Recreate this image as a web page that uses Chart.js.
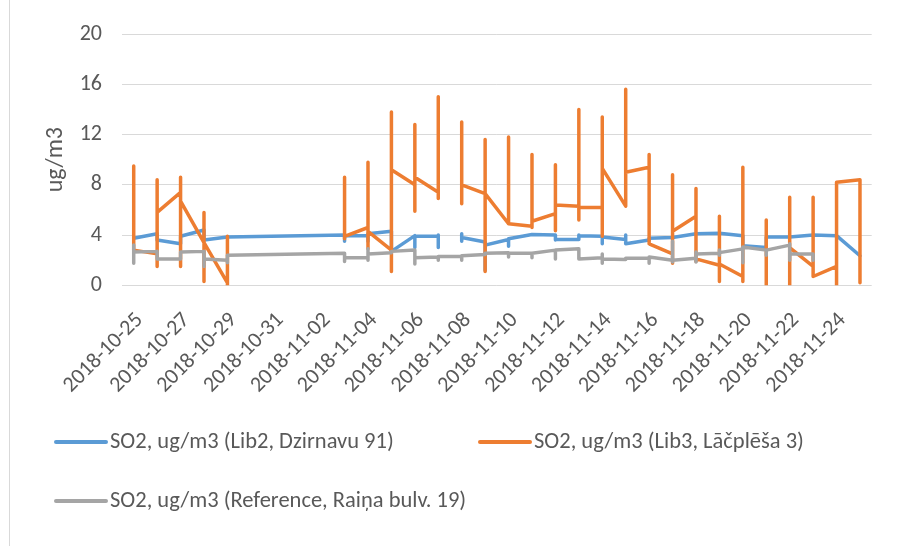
<!DOCTYPE html>
<html>
<head>
<meta charset="utf-8">
<script src="https://cdn.jsdelivr.net/npm/chart.js@4/dist/chart.umd.min.js"></script>
<style>
  html, body { margin: 0; padding: 0; background: #fff; }
  #wrap { position: relative; width: 901px; height: 546px; }
  #frame { position: absolute; left: 9px; top: 0; width: 1px; height: 546px; background: #d9d9d9; }
  canvas { position: absolute; left: 0; top: 0; }
</style>
</head>
<body>
<div id="wrap">
  <canvas id="chart" width="901" height="546"></canvas>
  <div id="frame"></div>
</div>
<script>
// Daily dates on the category axis
const categories = [
  '2018-10-25','2018-10-26','2018-10-27','2018-10-28','2018-10-29','2018-10-30',
  '2018-10-31','2018-11-01','2018-11-02','2018-11-03','2018-11-04','2018-11-05',
  '2018-11-06','2018-11-07','2018-11-08','2018-11-09','2018-11-10','2018-11-11',
  '2018-11-12','2018-11-13','2018-11-14','2018-11-15','2018-11-16','2018-11-17',
  '2018-11-18','2018-11-19','2018-11-20','2018-11-21','2018-11-22','2018-11-23',
  '2018-11-24','2018-11-25'
];

// Readings per day, in measurement order (several readings share one date).
// [] = no rows that day; null = missing reading (breaks the line).
const lib2 = [
  [3.75], [4.1, 3.6], [3.3, 3.9], [4.4, 3.6], [3.85],
  [], [], [], [],
  [4.0, 3.5, 3.95], [3.95, 3.5, 4.1], [4.3, 2.7], [3.95, 3.0, 3.9], [3.9, 4.0, 3.0, null],
  [4.1, 3.5, 3.8], [3.45, 1.2, 3.2], [3.65, 3.1, 3.7], [4.05], [4.0, 3.6, 3.65],
  [3.65, 4.0, 3.95], [3.9, 3.3, 3.85], [3.65, 4.0, 3.3], [3.6, 3.75], [3.8],
  [4.1], [4.15], [3.95, 3.15], [3.0, 3.85], [3.85], [4.0], [3.95], [2.35]
];

const lib3 = [
  [9.5, 2.8], [2.5, 1.5, 8.4, 5.8], [7.4, 8.6, 1.5, 6.7], [3.4, 5.8, 0.3, 3.4], [0.2, 3.9, 0.0, null],
  [], [], [], [],
  [8.6, 3.7, 3.9], [4.6, 9.8, 2.9, 4.3], [2.8, 1.1, 13.8, 9.2], [8.0, 12.8, 5.9, 8.6], [7.4, 15.0, 6.9, null],
  [13.0, 6.5, 8.0], [7.3, 11.6, 1.1, 7.3], [4.9, 11.8, 4.9], [4.7, 10.4, 4.6, 5.1], [5.7, 9.6, 4.35, 6.4],
  [6.3, 14.0, 5.2, 6.2], [6.2, 13.4, 3.9, 9.3], [6.3, 15.6, 9.0], [9.4, 10.4, 3.3], [2.5, 1.75, 8.8, 4.3],
  [5.5, 7.7, 1.9, 2.1], [1.6, 5.5, 0.3, 1.7], [0.7, 9.4, 0.3, null], [5.2, 0.0, null], [0.0, 7.0, 3.0],
  [1.5, 7.0, 0.7], [1.5, 0.0, 8.2], [8.4, 0.2]
];

const reference = [
  [3.2, 1.75, 2.65], [2.7, 2.1], [2.1, 2.65], [2.7, 1.5, 2.1], [2.0, 1.8, 2.4],
  [], [], [], [],
  [2.55, 1.9, 2.2], [2.2, 2.0, 2.9, 2.5], [2.6, 2.7], [2.8, 1.7, 2.2], [2.25, 2.0, 2.3],
  [2.3, 2.0, 2.35], [2.45, 2.55], [2.6, 2.25, 2.55], [2.55, 2.2, 2.55], [2.8, 2.1, 2.8],
  [2.9, 2.1], [2.2, 2.5, 1.75, 2.1], [2.05, 2.15], [2.15, 1.75, 2.25], [2.0, 3.5, 1.85, 2.0],
  [2.15, 2.65, 1.85, 2.5], [2.55, 2.8, 2.4, 2.6], [2.9, 1.8, 3.05], [2.8, 2.4, 2.8], [3.2, 3.3, 2.0, 2.5],
  [2.5, 2.0, 2.5], [], []
];

const seriesNames = [
  'SO2, ug/m3 (Lib2, Dzirnavu 91)',
  'SO2, ug/m3 (Lib3, Lāčplēša 3)',
  'SO2, ug/m3 (Reference, Raiņa bulv. 19)'
];
const seriesColors = ['#5B9BD5', '#ED7D31', '#A5A5A5'];
const yTicks = [0, 4, 8, 12, 16, 20];
const yTitle = 'ug/m3';

const FONT = 'Carlito, Calibri, Lato, sans-serif';
const TEXT = '#595959';

function toPoints(days) {
  const pts = [];
  days.forEach((vals, i) => vals.forEach(v => pts.push({ x: categories[i], y: v })));
  return pts;
}

// Legend laid out in two rows under the axis
const legendSlots = [{ x: 56, y: 442 }, { x: 480, y: 442 }, { x: 56, y: 501 }];
const legendPlugin = {
  id: 'rowLegend',
  afterDraw(chart) {
    const ctx = chart.ctx;
    ctx.save();
    chart.data.datasets.forEach((ds, i) => {
      const s = legendSlots[i];
      ctx.strokeStyle = ds.borderColor;
      ctx.lineWidth = 4;
      ctx.lineCap = 'round';
      ctx.beginPath();
      ctx.moveTo(s.x, s.y);
      ctx.lineTo(s.x + 50, s.y);
      ctx.stroke();
      ctx.fillStyle = TEXT;
      ctx.font = '22.5px ' + FONT;
      ctx.textBaseline = 'middle';
      ctx.textAlign = 'left';
      ctx.fillText(ds.label, s.x + 54, s.y);
    });
    ctx.restore();
  }
};

const datasets = [lib2, lib3, reference].map((days, i) => ({
  label: seriesNames[i],
  data: toPoints(days),
  borderColor: seriesColors[i],
  backgroundColor: seriesColors[i],
  borderWidth: 3.5,
  pointRadius: 0,
  tension: 0,
  spanGaps: false,
  borderJoinStyle: 'round',
  borderCapStyle: 'round',
  order: 3 - i
}));

new Chart(document.getElementById('chart'), {
  type: 'line',
  data: { labels: categories, datasets },
  plugins: [legendPlugin],
  options: {
    responsive: false,
    animation: false,
    layout: { padding: { top: 34, right: 22.5, left: 0, bottom: 0 } },
    plugins: { legend: { display: false }, tooltip: { enabled: false } },
    scales: {
      x: {
        type: 'category',
        offset: true,
        grid: { display: false, drawTicks: false },
        border: { display: false },
        ticks: {
          autoSkip: false,
          maxRotation: 45,
          minRotation: 45,
          padding: 22,
          labelOffset: 6,
          color: TEXT,
          font: { family: FONT, size: 22 },
          callback: (v, idx) => (idx % 2 === 0 ? categories[idx] : '')
        },
        afterFit: (scale) => { scale.height = 546 - 285.3; }
      },
      y: {
        min: 0,
        max: 20,
        afterBuildTicks: (scale) => { scale.ticks = yTicks.map(v => ({ value: v })); },
        grid: { color: '#d9d9d9', lineWidth: 1, drawTicks: false },
        border: { display: false },
        ticks: { padding: 20, color: TEXT, font: { family: FONT, size: 22 } },
        title: {
          display: true,
          text: yTitle,
          color: TEXT,
          font: { family: FONT, size: 24 },
          padding: { top: 42, bottom: 0 }
        },
        afterFit: (scale) => { scale.width = 122; }
      }
    }
  }
});
</script>
</body>
</html>
